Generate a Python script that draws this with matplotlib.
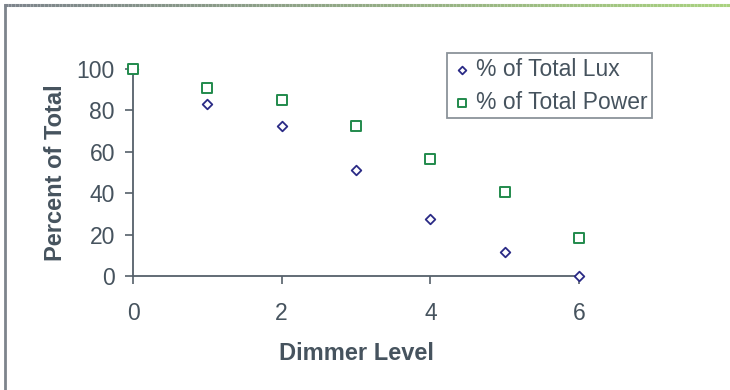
import numpy as np
import matplotlib.pyplot as plt
from matplotlib.collections import LineCollection
from matplotlib.colors import LinearSegmentedColormap

plt.rcParams['font.family'] = ['Liberation Sans', 'DejaVu Sans']

# dimmer settings and measured percentages
level = [0, 1, 2, 3, 4, 5, 6]
lux_pct = [100, 83, 72.5, 51, 27.5, 11.5, 0]
power_pct = [100, 91, 85, 72.5, 56.5, 40.5, 18.5]

text_col = '#46535e'
axis_col = '#55606a'

fig = plt.figure(figsize=(7.3, 3.9), dpi=100)
ax = fig.add_axes([133 / 730, 1 - 276 / 390, 446 / 730, 207 / 390])

ax.scatter(level, lux_pct, marker='D', s=24, facecolors='white',
           edgecolors='#2b2b86', linewidths=1.3, zorder=3, clip_on=False,
           label='% of Total Lux')
ax.scatter(level, power_pct, marker='s', s=50, facecolors='white',
           edgecolors='#218a4c', linewidths=1.4, zorder=4, clip_on=False,
           label='% of Total Power')

ax.set_xlim(0, 6)
ax.set_ylim(0, 100)
ax.set_xticks([0, 2, 4, 6])
ax.set_yticks(np.arange(0, 101, 20))
for s in ['top', 'right']:
    ax.spines[s].set_visible(False)
for s in ['left', 'bottom']:
    ax.spines[s].set_color(axis_col)
    ax.spines[s].set_linewidth(1.3)
ax.tick_params(axis='both', colors=axis_col, labelcolor=text_col,
               labelsize=16.5, length=6, width=1.2)
ax.tick_params(axis='x', pad=13)
ax.tick_params(axis='y', pad=7)

ax.set_xlabel('Dimmer Level', fontsize=17, fontweight='bold',
              color=text_col, labelpad=12)
ax.set_ylabel('Percent of Total', fontsize=17, fontweight='bold',
              color=text_col, labelpad=7)

leg = ax.legend(loc='upper left', bbox_to_anchor=(447 / 730, 1 - 53 / 390),
                bbox_transform=fig.transFigure, frameon=True, fancybox=False,
                fontsize=16.5, handletextpad=0.15, handlelength=0.9,
                borderpad=0.2, labelspacing=0.45, borderaxespad=0,
                markerscale=0.8)
leg.get_frame().set_edgecolor('#6e7880')
leg.get_frame().set_linewidth(1.3)
for t in leg.get_texts():
    t.set_color(text_col)

# page frame: grey left edge, grey-to-green top edge
fig.add_artist(plt.Line2D([4.5 / 730, 4.5 / 730], [0, 1 - 5 / 390],
                          transform=fig.transFigure, color='#7d848c', lw=2))
xs = np.linspace(4 / 730, 1, 200)
ys = np.full_like(xs, 1 - 5 / 390)
pts = np.column_stack([xs, ys]).reshape(-1, 1, 2)
segs = np.concatenate([pts[:-1], pts[1:]], axis=1)
cmap = LinearSegmentedColormap.from_list('edge', ['#7d848c', '#a9d27f'])
lc = LineCollection(segs, colors=cmap(np.linspace(0, 1, len(segs))),
                    linewidths=2.2, transform=fig.transFigure,
                    capstyle='butt')
fig.add_artist(lc)

fig.savefig('out.png', dpi=100)
